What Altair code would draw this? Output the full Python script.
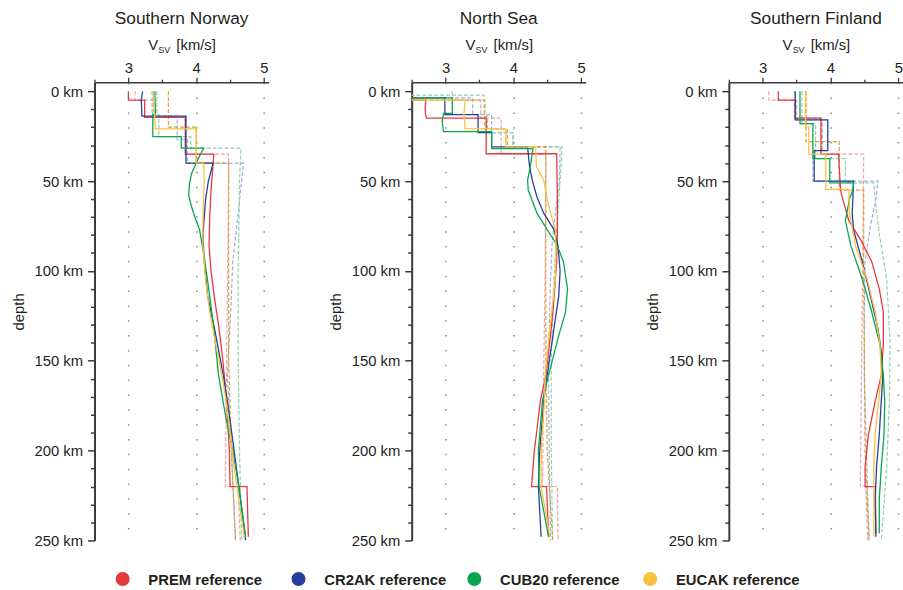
import altair as alt
import pandas as pd

FONT = "Liberation Sans"
INK = "#231f20"
AXIS_INK = "#3a3a3a"

MODELS = ["PREM reference", "CR2AK reference", "CUB20 reference", "EUCAK reference"]
FINAL_COLORS = ["#e8383b", "#25409a", "#08a650", "#f8c243"]
REF_COLORS = ["#f4a3a4", "#9fb0da", "#8fd2aa", "#d4a03c"]
PANELS = ["Southern Norway", "North Sea", "Southern Finland"]

X_DOMAIN = [2.5, 5.07]
Y_DOMAIN = [-5, 250]
X_TICKS = [2.5, 3, 3.5, 4, 4.5, 5]
Y_TICKS = list(range(0, 251, 10))

# ---- Southern Norway: (depth km, Vsv km/s) ----
nor_prem_fin = [(0, 3.00), (5, 3.00), (5, 3.24), (14.5, 3.24), (14.5, 3.84), (35, 3.84), (35, 4.26), (45, 4.24),
                (55, 4.22), (70, 4.20), (86, 4.19), (100, 4.22), (115, 4.27), (130, 4.33), (145, 4.38), (160, 4.42),
                (180, 4.46), (200, 4.49), (220, 4.50), (220, 4.75), (248, 4.77)]
nor_cr2ak_fin = [(0, 3.21), (5, 3.19), (13.8, 3.20), (13.8, 3.85), (40, 3.85), (40, 4.25), (50, 4.18), (60, 4.14),
                 (70, 4.12), (80, 4.10), (95, 4.12), (114, 4.17), (132, 4.27), (158, 4.40), (172, 4.46), (200, 4.56),
                 (220, 4.63), (250, 4.73)]
nor_cub20_fin = [(0, 3.39), (12.8, 3.40), (12.8, 3.36), (25.3, 3.36), (25.3, 3.78), (31.7, 3.78), (31.7, 4.11),
                 (36, 4.05), (40, 4.00), (46, 3.93), (52, 3.90), (58, 3.89), (64, 3.93), (70, 3.98), (77, 4.05),
                 (95, 4.13), (114, 4.20), (132, 4.26), (158, 4.33), (182, 4.44), (200, 4.54), (220, 4.63), (248, 4.73)]
nor_eucak_fin = [(0, 3.37), (10, 3.38), (21, 3.40), (21, 4.00), (40, 4.00), (40, 4.11), (50, 4.12), (68, 4.10),
                 (86, 4.10), (105, 4.14), (123, 4.20), (141, 4.29), (158, 4.38), (172, 4.44), (200, 4.53), (220, 4.60),
                 (248, 4.71)]
nor_prem_ref = [(0, 3.10), (5, 3.10), (5, 3.37), (14.5, 3.37), (14.5, 3.84), (35, 3.84), (35, 4.48), (80, 4.47),
                (150, 4.45), (220, 4.43), (220, 4.62), (250, 4.65)]
nor_cr2ak_ref = [(0, 3.35), (13.8, 3.35), (13.8, 3.72), (27, 3.72), (27, 3.87), (40, 3.87), (40, 4.70), (50, 4.67),
                 (68, 4.62), (95, 4.54), (123, 4.51), (158, 4.46), (200, 4.52), (250, 4.58)]
nor_cub20_ref = [(0, 3.42), (12.8, 3.42), (12.8, 3.45), (25.3, 3.45), (25.3, 3.92), (31.7, 3.92), (31.7, 4.66),
                 (50, 4.64), (100, 4.62), (150, 4.62), (200, 4.64), (250, 4.67)]
nor_eucak_ref = [(0, 3.59), (20, 3.59), (20, 4.00), (40, 4.00), (40, 4.48), (100, 4.48), (150, 4.48), (200, 4.52),
                 (250, 4.58)]

# ---- North Sea (water layer Vs = 0) ----
ns_prem_fin = [(0, 0.0), (5, 0.0), (5, 2.71), (9, 2.70), (12, 2.70), (15, 2.72), (15, 3.60), (34.8, 3.60),
               (34.8, 4.64), (60, 4.65), (80, 4.65), (95, 4.64), (105, 4.62), (120, 4.59), (132, 4.56), (145, 4.52),
               (158, 4.48), (172, 4.40), (191, 4.34), (200, 4.31), (220, 4.27), (220, 4.49), (248, 4.52)]
ns_cr2ak_fin = [(0, 0.0), (3.7, 0.0), (3.7, 2.99), (13, 2.99), (13, 3.48), (23, 3.48), (23, 3.68), (31, 3.68),
                (31, 4.21), (42, 4.24), (49.6, 4.28), (59, 4.35), (68, 4.45), (77, 4.60), (86, 4.66), (100, 4.69),
                (114, 4.67), (132, 4.60), (158, 4.50), (172, 4.45), (200, 4.39), (220, 4.37), (248, 4.41)]
ns_cub20_fin = [(0, 0.0), (3.7, 0.0), (3.7, 3.10), (12.3, 3.10), (12.3, 2.97), (17, 2.95), (22.5, 2.97),
                (22.5, 3.68), (32, 3.68), (32, 4.29), (42, 4.25), (49.6, 4.21), (55, 4.22), (68, 4.35), (77, 4.50),
                (86, 4.65), (95, 4.74), (110, 4.80), (123, 4.77), (136, 4.67), (158, 4.52), (172, 4.43), (200, 4.37),
                (220, 4.38), (248, 4.52)]
ns_eucak_fin = [(0, 0.0), (5, 0.0), (5, 3.29), (13, 3.27), (21, 3.29), (21, 3.89), (31, 3.89), (31, 4.33),
                (42, 4.34), (49.6, 4.45), (60, 4.50), (68, 4.55), (77, 4.62), (90, 4.63), (104.6, 4.62), (132, 4.54),
                (158, 4.47), (172, 4.46), (200, 4.41), (220, 4.41), (248, 4.54)]
ns_prem_ref = [(0, 3.10), (5, 3.10), (5, 3.52), (15, 3.52), (15, 3.82), (35, 3.82), (35, 4.48), (100, 4.47),
               (150, 4.45), (220, 4.43), (220, 4.65), (250, 4.66)]
ns_cr2ak_ref = [(0, 0.0), (3.7, 0.0), (3.7, 3.40), (13, 3.40), (13, 3.68), (23, 3.68), (23, 4.00), (31, 4.00),
                (31, 4.69), (50, 4.68), (68, 4.62), (86, 4.57), (105, 4.55), (132, 4.53), (158, 4.52), (200, 4.53),
                (250, 4.55)]
ns_cub20_ref = [(0, 0.0), (2.2, 0.0), (2.2, 3.57), (14, 3.57), (14, 3.62), (23, 3.62), (23, 3.99), (31, 3.99),
                (31, 4.72), (50, 4.69), (77, 4.64), (105, 4.60), (150, 4.56), (200, 4.56), (250, 4.58)]
ns_eucak_ref = [(0, 0.0), (5, 0.0), (5, 3.58), (21, 3.58), (21, 3.91), (31, 3.91), (31, 4.48), (100, 4.48),
                (150, 4.48), (200, 4.50), (250, 4.58)]

# ---- Southern Finland ----
fi_prem_fin = [(0, 3.23), (5, 3.23), (5, 3.48), (15, 3.48), (15, 3.86), (35, 3.86), (35, 4.12), (50, 4.14),
               (55, 4.15), (60, 4.18), (72, 4.27), (83, 4.45), (95, 4.61), (110, 4.72), (123, 4.78), (141, 4.78),
               (158, 4.75), (172.5, 4.66), (191, 4.56), (209, 4.51), (220, 4.51), (220, 4.66), (246, 4.67)]
fi_cr2ak_fin = [(0, 3.48), (16, 3.48), (16, 3.96), (33, 3.96), (33, 3.76), (50, 3.76), (50, 4.34), (60, 4.33),
                (68, 4.32), (77, 4.34), (95, 4.47), (114, 4.59), (132, 4.70), (148, 4.76), (160, 4.77), (172, 4.75),
                (191, 4.72), (209, 4.68), (227, 4.66), (248, 4.67)]
fi_cub20_fin = [(0, 3.55), (18, 3.55), (18, 3.74), (37.5, 3.74), (37.5, 3.99), (51, 3.99), (51, 4.34), (55, 4.33),
                (60, 4.28), (72, 4.22), (86, 4.30), (104.6, 4.47), (123, 4.61), (141, 4.73), (158, 4.78),
                (172.5, 4.80), (191, 4.79), (209, 4.75), (227, 4.72), (246, 4.72)]
fi_eucak_fin = [(0, 3.63), (20, 3.63), (20, 3.68), (35, 3.68), (35, 3.93), (54.6, 3.93), (54.6, 4.27), (68, 4.28),
                (86, 4.37), (104.6, 4.54), (123, 4.66), (141, 4.73), (158, 4.75), (172.5, 4.71), (191, 4.66),
                (209, 4.64), (227, 4.64), (248, 4.64)]
fi_prem_ref = [(0, 3.09), (5, 3.09), (5, 3.50), (15, 3.50), (15, 3.86), (35, 3.86), (35, 4.49), (80, 4.48),
               (150, 4.46), (220, 4.44), (220, 4.52), (250, 4.55)]
fi_cr2ak_ref = [(0, 3.47), (16, 3.47), (16, 3.88), (33, 3.88), (33, 3.74), (50, 3.74), (50, 4.70), (60, 4.67),
                (77, 4.58), (95, 4.51), (123, 4.50), (158, 4.50), (200, 4.53), (250, 4.57)]
fi_cub20_ref = [(0, 3.58), (18, 3.58), (18, 3.78), (37.5, 3.78), (37.5, 4.22), (51, 4.22), (51, 4.64), (60, 4.66),
                (77, 4.71), (104.6, 4.83), (141, 4.88), (172, 4.87), (209, 4.83), (250, 4.75)]
fi_eucak_ref = [(0, 3.64), (28, 3.64), (28, 4.13), (55, 4.13), (55, 4.49), (100, 4.49), (150, 4.50), (200, 4.51),
                (250, 4.57)]

PROFILES = {
    ("Southern Norway", "final"): [nor_prem_fin, nor_cr2ak_fin, nor_cub20_fin, nor_eucak_fin],
    ("Southern Norway", "reference"): [nor_prem_ref, nor_cr2ak_ref, nor_cub20_ref, nor_eucak_ref],
    ("North Sea", "final"): [ns_prem_fin, ns_cr2ak_fin, ns_cub20_fin, ns_eucak_fin],
    ("North Sea", "reference"): [ns_prem_ref, ns_cr2ak_ref, ns_cub20_ref, ns_eucak_ref],
    ("Southern Finland", "final"): [fi_prem_fin, fi_cr2ak_fin, fi_cub20_fin, fi_eucak_fin],
    ("Southern Finland", "reference"): [fi_prem_ref, fi_cr2ak_ref, fi_cub20_ref, fi_eucak_ref],
}

rows = []
for (panel, kind), profs in PROFILES.items():
    for model, prof in zip(MODELS, profs):
        for i, (dep, vs) in enumerate(prof):
            rows.append({"panel": panel, "kind": kind, "model": model, "i": i, "depth": dep, "vs": vs})
df = pd.DataFrame(rows)

INT_TEST = "abs(datum.value - round(datum.value)) < 0.001"
NO_FRAME = alt.ViewBackground(strokeWidth=0, strokeOpacity=0, stroke="transparent")
PANEL_W, PANEL_H = 176, 463


def x_enc():
    return alt.X(
        "vs:Q",
        scale=alt.Scale(domain=X_DOMAIN, nice=False, zero=False),
        axis=alt.Axis(
            orient="top", values=X_TICKS, title=None,
            labelExpr=f"{INT_TEST} ? format(datum.value, 'd') : ''",
            labelFont=FONT, labelFontSize=15, labelColor=INK, labelPadding=2,
            labelFlush=False, labelOverlap=False,
            domainColor=AXIS_INK, domainWidth=1.5, tickColor=AXIS_INK, tickWidth=1.3,
            tickSize={"condition": {"test": INT_TEST, "value": 5}, "value": 3},
            grid=True, gridColor="#8f8f8f", gridWidth=1.6, gridDash=[1.5, 13.5],
            gridOpacity={"condition": {"test": INT_TEST, "value": 1}, "value": 0},
        ),
    )


def y_enc():
    return alt.Y(
        "depth:Q",
        scale=alt.Scale(domain=Y_DOMAIN, nice=False, zero=False, reverse=True),
        axis=alt.Axis(
            values=Y_TICKS, title="depth",
            labelExpr="datum.value % 50 == 0 ? datum.value + ' km' : ''",
            labelFont=FONT, labelFontSize=15, labelColor=INK, labelPadding=5,
            labelFlush=False, labelOverlap=False,
            domainColor=AXIS_INK, domainWidth=2, tickColor=AXIS_INK, tickWidth=1.5,
            tickSize={"condition": {"test": "datum.value % 50 == 0", "value": 7}, "value": 4},
            grid=False,
            titleFont=FONT, titleFontSize=15, titleFontWeight="normal", titleColor=INK, titlePadding=8,
        ),
    )


def text_mark(txt, px, py, size):
    return alt.Chart(pd.DataFrame({"t": [txt]})).mark_text(
        align="left", baseline="alphabetic", font=FONT, fontSize=size, color=INK
    ).encode(x=alt.value(px), y=alt.value(py), text="t:N")


def make_panel(name):
    fin = df[(df.panel == name) & (df.kind == "final")]
    ref = df[(df.panel == name) & (df.kind == "reference")]
    dashed = alt.Chart(ref).mark_line(strokeWidth=1.2, strokeDash=[4, 2], clip=True).encode(
        x=x_enc(), y=y_enc(),
        color=alt.Color("model:N", scale=alt.Scale(domain=MODELS, range=REF_COLORS), legend=None),
        detail="model:N", order="i:Q",
    )
    solid = alt.Chart(fin).mark_line(strokeWidth=1.3, clip=True).encode(
        x=x_enc(), y=y_enc(),
        stroke=alt.Stroke("model:N", scale=alt.Scale(domain=MODELS, range=FINAL_COLORS), legend=None),
        detail="model:N", order="i:Q",
    )
    return alt.layer(
        dashed, solid,
        text_mark("V", 54.3, -32.7, 15),
        text_mark("SV", 64.5, -29.3, 9),
        text_mark("[km/s]", 82.7, -32.7, 15),
    ).properties(
        width=PANEL_W, height=PANEL_H, view=NO_FRAME,
        title=alt.TitleParams(text=name, font=FONT, fontSize=17.5, fontWeight="normal", color=INK,
                              anchor="middle", offset=11),
    )


# ---- legend row (one entry per model, spaced by a point scale) ----
legend_df = pd.DataFrame({"model": MODELS})
leg_x = alt.X("model:N", scale=alt.Scale(type="point", domain=MODELS, padding=0.16), axis=None)
leg_dots = alt.Chart(legend_df).mark_circle(size=200, opacity=1).encode(
    x=leg_x, y=alt.value(10),
    fill=alt.Fill("model:N", scale=alt.Scale(domain=MODELS, range=FINAL_COLORS), legend=None),
)
leg_text = alt.Chart(legend_df).mark_text(
    align="left", baseline="middle", dx=26, dy=1, font=FONT, fontSize=15, fontWeight="bold", color=INK
).encode(x=leg_x, y=alt.value(10), text="model:N")
legend = alt.layer(leg_dots, leg_text).properties(width=590, height=20, view=NO_FRAME)

panels = alt.hconcat(
    make_panel(PANELS[0]), make_panel(PANELS[1]), make_panel(PANELS[2]),
    spacing=144.5, bounds="flush",
)

# with flush bounds the nested panel row counts as zero height, so the gap spans the plot height
chart = alt.vconcat(panels, legend, spacing=PANEL_H + 29, bounds="flush").properties(
    padding={"left": 10.5, "top": 6, "right": 0, "bottom": 0}
).configure_view(strokeWidth=0, strokeOpacity=0, stroke="transparent").configure(background="white")

chart.save("out.html", embed_options={"renderer": "svg", "actions": False})
